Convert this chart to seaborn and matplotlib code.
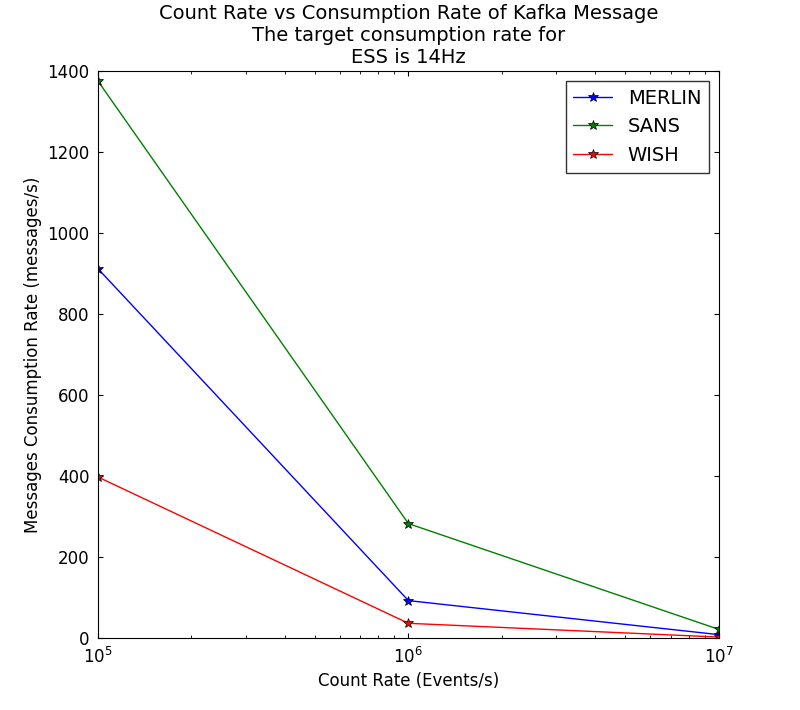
import matplotlib
matplotlib.use('Agg')
import matplotlib.pyplot as plt
import seaborn as sns
import pandas as pd

count_rate = [1e5, 1e6, 1e7]
merlin = [912, 93, 9]
sans = [1375, 283, 22]
wish = [398, 37, 3]

sns.set_style('ticks')
plt.rcParams['font.family'] = ['DejaVu Sans']
plt.rcParams['text.color'] = 'black'
plt.rcParams['axes.labelcolor'] = 'black'
plt.rcParams['xtick.color'] = 'black'
plt.rcParams['ytick.color'] = 'black'

df = pd.DataFrame({
    'rate': count_rate * 3,
    'value': merlin + sans + wish,
    'instrument': ['MERLIN'] * 3 + ['SANS'] * 3 + ['WISH'] * 3,
})

fig = plt.figure(figsize=(8, 7.1), dpi=100)
ax = fig.add_axes([0.1225, 0.101, 0.776, 0.799])
sns.lineplot(data=df, x='rate', y='value', hue='instrument',
             palette=['blue', 'green', 'red'], marker='*', markersize=7,
             markeredgecolor='black', markeredgewidth=0.5, linewidth=1, ax=ax)
ax.set_xscale('log')
ax.set_xlim(1e5, 1e7)
ax.set_ylim(0, 1400)
ax.tick_params(direction='in', top=True, right=True, labelsize=12, pad=6)
ax.tick_params(which='minor', direction='in', top=True)
for s in ax.spines.values():
    s.set_color('black')
ax.set_xlabel('Count Rate (Events/s)', fontsize=12)
ax.set_ylabel('Messages Consumption Rate (messages/s)', fontsize=12)
ax.set_title('Count Rate vs Consumption Rate of Kafka Message\nThe target consumption rate for\nESS is 14Hz', fontsize=14)
leg = ax.legend(loc='upper right', fontsize=14, frameon=True, fancybox=False)
leg.get_frame().set_edgecolor('black')
fig.savefig('out.png')
